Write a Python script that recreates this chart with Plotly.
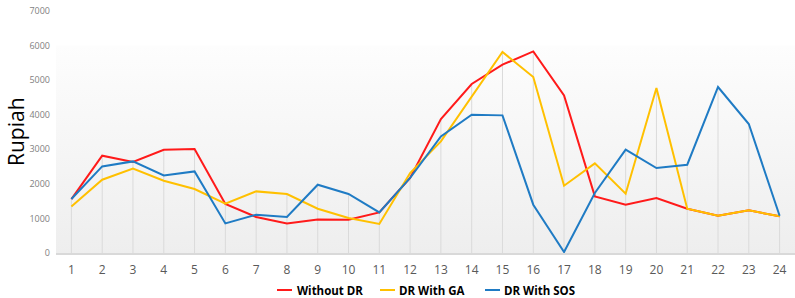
import plotly.graph_objects as go

hours = [str(i) for i in range(1, 25)]
without_dr = [1560, 2815, 2632, 2988, 3008, 1417, 1041, 856, 972, 963, 1175, 2170,
              3876, 4889, 5447, 5832, 4559, 1637, 1397, 1591, 1281, 1079, 1233, 1060]
dr_ga = [1348, 2120, 2439, 2091, 1851, 1426, 1782, 1707, 1281, 1012, 839, 2314,
         3228, 4530, 5814, 5091, 1947, 2592, 1716, 4773, 1281, 1079, 1233, 1060]
dr_sos = [1562, 2505, 2650, 2245, 2360, 856, 1108, 1041, 1976, 1707, 1175, 2170,
          3373, 4001, 3981, 1397, 29, 1735, 2988, 2459, 2554, 4802, 3731, 1079]
y_ticks = [0, 1000, 2000, 3000, 4000, 5000, 6000, 7000]
series_names = ["Without DR", "DR With GA", "DR With SOS"]
series_colors = ["#ff1a1a", "#ffc000", "#1f7bc4"]

FONT = "Open Sans"
W, H = 795, 298
ML, MR, MT, MB = 56, 0, 11, 45
PW = W - ML - MR

fig = go.Figure()

# background gradient (plot area) on hidden linear axis
fig.add_trace(go.Scatter(
    x=[-0.5, 23.5, 23.5, -0.5, -0.5], y=[0, 0, 6000, 6000, 0], xaxis="x",
    mode="lines", line=dict(width=0), fill="toself",
    fillgradient=dict(type="vertical", colorscale=[[0, "#eeeeee"], [1, "#fdfdfd"]]),
    hoverinfo="skip", showlegend=False))

# drop lines from max value to axis
dx, dy = [], []
for i, h in enumerate(hours):
    m = max(without_dr[i], dr_ga[i], dr_sos[i])
    dx += [h, h, None]
    dy += [0, m, None]
fig.add_trace(go.Scatter(x=dx, y=dy, xaxis="x2", mode="lines",
                         line=dict(color="#dadada", width=1),
                         hoverinfo="skip", showlegend=False))

for name, vals, col in zip(series_names, [without_dr, dr_ga, dr_sos], series_colors):
    fig.add_trace(go.Scatter(x=hours, y=vals, xaxis="x2", name=name, mode="lines",
                             line=dict(color=col, width=2), showlegend=False))

# manual legend (line sample + bold label)
LEG_Y = 290
leg_y_paper = -(LEG_Y - (H - MB)) / (H - MT - MB)
legend_px = [(277, 295), (380, 397), (485, 502)]
shapes, annotations = [], []
for (lx, tx), name, col in zip(legend_px, series_names, series_colors):
    shapes.append(dict(type="line", xref="paper", yref="paper",
                       x0=(lx - ML) / PW, x1=(lx + 15 - ML) / PW,
                       y0=leg_y_paper, y1=leg_y_paper,
                       line=dict(color=col, width=2)))
    annotations.append(dict(text=f"<b>{name}</b>", xref="paper", yref="paper",
                            x=(tx - ML) / PW, xanchor="left",
                            y=leg_y_paper, yanchor="middle",
                            showarrow=False, font=dict(size=11.5, color="black", family=FONT)))

annotations.append(dict(text="Rupiah", xref="paper", yref="paper", x=0, xanchor="center",
                        xshift=-(ML - 16), y=0.5, yanchor="middle", textangle=-90,
                        showarrow=False, font=dict(size=21, color="black", family=FONT)))

fig.update_layout(
    width=W, height=H,
    margin=dict(l=ML, r=MR, t=MT, b=MB, autoexpand=False),
    paper_bgcolor="white", plot_bgcolor="white",
    font=dict(family=FONT, color="#595959"),
    xaxis=dict(range=[-0.5, 23.5], visible=False, fixedrange=True),
    xaxis2=dict(type="category", categoryorder="array", categoryarray=hours,
                overlaying="x", side="bottom",
                range=[-0.5, 23.5], showgrid=False, showline=True, linecolor="#d9d9d9",
                linewidth=2, tickfont=dict(size=12, color="#595959"), ticks="",
                ticklabelstandoff=5, automargin=False, fixedrange=True),
    yaxis=dict(range=[0, 7000], tickvals=y_ticks, showgrid=False, zeroline=False,
               showline=False, tickfont=dict(size=9, color="#7f7f7f"), ticks="",
               ticklabelstandoff=5, automargin=False, fixedrange=True),
    shapes=shapes, annotations=annotations,
    showlegend=False,
)

fig.write_html("out.html", config={"displayModeBar": False, "staticPlot": True},
               post_script="document.body.style.margin='0';document.body.style.overflow='hidden';")
